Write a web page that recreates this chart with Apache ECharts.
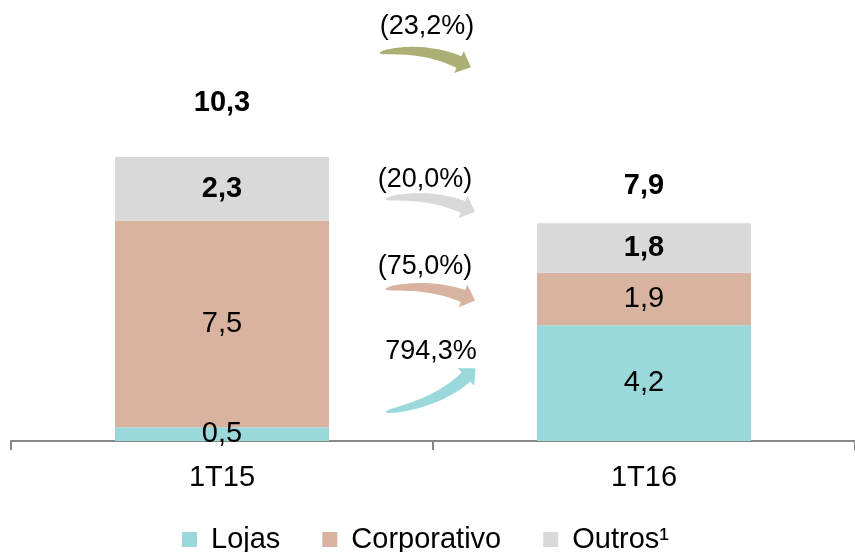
<!DOCTYPE html>
<html>
<head>
<meta charset="utf-8">
<title>Receita 1T15 x 1T16</title>
<script src="https://cdn.jsdelivr.net/npm/echarts@6/dist/echarts.min.js"></script>
<style>
  html, body { margin: 0; padding: 0; background: #fff; }
</style>
</head>
<body>
<div id="main" style="width:855px;height:552px;"></div>
<script type="text/javascript">
// data
var categories = ['1T15', '1T16'];
var lojas = [0.5, 4.2];
var corporativo = [7.5, 1.9];
var outros = [2.3, 1.8];
var totais = [10.3, 7.9];
var seriesNames = ['Lojas', 'Corporativo', 'Outros¹'];
var variacoes = ['(23,2%)', '(20,0%)', '(75,0%)', '794,3%'];

var cores = {
  lojas: '#9BD8DB',
  corporativo: '#D8B4A0',
  outros: '#D9D9D9',
  total: '#ABAF73'
};

var fonte = '"Liberation Sans", Arial, sans-serif';

function fmt(v) {
  return v.toFixed(1).replace('.', ',');
}

var myChart = echarts.init(document.getElementById('main'));

function serieEmpilhada(nome, dados, cor, negrito) {
  return {
    name: nome,
    type: 'bar',
    stack: 'total',
    barWidth: 214,
    silent: true,
    itemStyle: { color: cor },
    label: {
      show: true,
      position: 'inside',
      color: '#000',
      fontFamily: fonte,
      fontSize: 29,
      fontWeight: negrito ? 'bold' : 'normal',
      formatter: function (p) { return fmt(p.value); }
    },
    data: dados
  };
}

var option = {
  animation: false,
  textStyle: { fontFamily: fonte },
  grid: { left: 11, width: 848, top: 0, bottom: 111 },
  legend: {
    data: seriesNames,
    top: 520,
    left: 177,
    icon: 'rect',
    itemWidth: 15,
    itemHeight: 15,
    itemGap: 42,
    selectedMode: false,
    textStyle: {
      fontFamily: fonte,
      fontSize: 29,
      color: '#000',
      padding: [0, 0, 0, 9]
    }
  },
  xAxis: {
    type: 'category',
    data: categories,
    axisLine: { lineStyle: { color: '#888888', width: 2 } },
    axisTick: { show: true, length: 9, lineStyle: { color: '#888888', width: 2 } },
    axisLabel: { color: '#000', fontFamily: fonte, fontSize: 29, margin: 22 }
  },
  yAxis: {
    type: 'value',
    min: 0,
    max: 16,
    show: false,
    splitLine: { show: false }
  },
  series: [
    serieEmpilhada('Lojas', lojas, cores.lojas, false),
    serieEmpilhada('Corporativo', corporativo, cores.corporativo, false),
    serieEmpilhada('Outros¹', outros, cores.outros, true),
    {
      name: 'Total',
      type: 'bar',
      barWidth: 214,
      barGap: '-100%',
      silent: true,
      z: 5,
      itemStyle: { color: 'rgba(0,0,0,0)' },
      label: {
        show: true,
        position: 'top',
        color: '#000',
        fontFamily: fonte,
        fontSize: 29,
        fontWeight: 'bold',
        formatter: function (p) { return fmt(p.value); }
      },
      data: [
        { value: totais[0], label: { distance: 40 } },
        { value: totais[1], label: { distance: 23 } }
      ]
    }
  ]
};

myChart.setOption(option);

// curved arrows with the change between the two quarters
var meioX = (myChart.convertToPixel({ xAxisIndex: 0 }, categories[0]) +
             myChart.convertToPixel({ xAxisIndex: 0 }, categories[1])) / 2;

var setas = [
  { cor: cores.total, texto: variacoes[0], ty: 27, tx: -6,
    p0: [-53, 53], c: [-11, 46], p2: [26, 62] },
  { cor: cores.outros, texto: variacoes[1], ty: 180, tx: -8,
    p0: [-47, 199], c: [-5, 193], p2: [30, 207] },
  { cor: cores.corporativo, texto: variacoes[2], ty: 267, tx: -8,
    p0: [-47, 289], c: [-5, 283], p2: [30, 296] },
  { cor: cores.lojas, texto: variacoes[3], ty: 352, tx: -2,
    p0: [-47, 412], c: [5, 403], p2: [33, 377] }
];

function pontoBezier(a, c, b, t) {
  var u = 1 - t;
  return [u * u * a[0] + 2 * u * t * c[0] + t * t * b[0],
          u * u * a[1] + 2 * u * t * c[1] + t * t * b[1]];
}

function tangente(a, c, b, t) {
  var dx = 2 * (1 - t) * (c[0] - a[0]) + 2 * t * (b[0] - c[0]);
  var dy = 2 * (1 - t) * (c[1] - a[1]) + 2 * t * (b[1] - c[1]);
  var len = Math.sqrt(dx * dx + dy * dy);
  return [dx / len, dy / len];
}

function formaSeta(s) {
  var a = [meioX + s.p0[0], s.p0[1]];
  var c = [meioX + s.c[0], s.c[1]];
  var b = [meioX + s.p2[0], s.p2[1]];
  var larg = 11, cabeca = 12, compr = 13;
  var cima = [], baixo = [];
  for (var i = 0; i <= 24; i++) {
    var t = i / 24;
    var p = pontoBezier(a, c, b, t);
    var d = tangente(a, c, b, t);
    var n = [-d[1], d[0]];
    var w = larg * Math.pow(t, 0.5) / 2 + 0.8;
    cima.push([p[0] + n[0] * w, p[1] + n[1] * w]);
    baixo.push([p[0] - n[0] * w, p[1] - n[1] * w]);
  }
  var dF = tangente(a, c, b, 1);
  var nF = [-dF[1], dF[0]];
  var pts = cima.slice();
  pts.push([b[0] + nF[0] * cabeca, b[1] + nF[1] * cabeca]);
  pts.push([b[0] + dF[0] * compr, b[1] + dF[1] * compr]);
  pts.push([b[0] - nF[0] * cabeca, b[1] - nF[1] * cabeca]);
  return pts.concat(baixo.reverse());
}

var graficos = [];
setas.forEach(function (s) {
  graficos.push({
    type: 'polygon',
    silent: true,
    shape: { points: formaSeta(s) },
    style: { fill: s.cor }
  });
  graficos.push({
    type: 'text',
    silent: true,
    x: meioX + s.tx,
    y: s.ty,
    style: {
      text: s.texto,
      fill: '#000',
      font: '27px ' + fonte,
      textAlign: 'center',
      textVerticalAlign: 'middle'
    }
  });
});

myChart.setOption({ graphic: graficos });
</script>
</body>
</html>
